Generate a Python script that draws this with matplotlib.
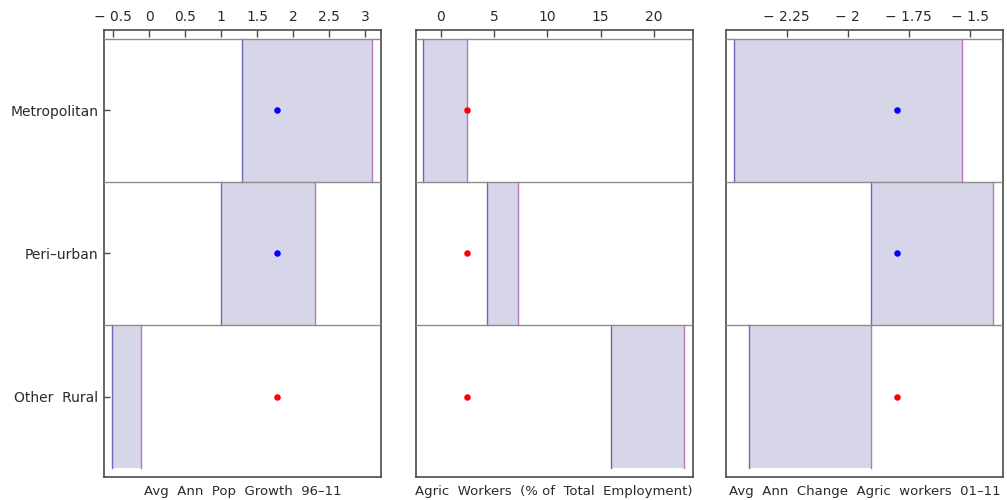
import matplotlib
matplotlib.use("Agg")
import matplotlib.pyplot as plt
from matplotlib.ticker import FuncFormatter

# rows, top to bottom
categories = ["Metropolitan", "Peri\u2013urban", "Other  Rural"]

# panel titles (drawn under each frame)
titles = ["Avg  Ann  Pop  Growth  96\u201311",
          "Agric  Workers  (% of  Total  Employment)",
          "Avg  Ann  Change  Agric  workers  01\u201311"]

# interval per row: low / high
pop_lo = [1.29, 0.99, -0.52]
pop_hi = [3.09, 2.30, -0.11]
agr_lo = [-1.64, 4.34, 16.0]
agr_hi = [2.50, 7.26, 22.8]
chg_lo = [-2.465, -1.904, -2.406]
chg_hi = [-1.531, -1.403, -1.904]

# marker value and colour per row
pop_dot = [1.77, 1.77, 1.77]
agr_dot = [2.5, 2.5, 2.5]
chg_dot = [-1.80, -1.80, -1.80]
pop_col = ["blue", "blue", "red"]
agr_col = ["red", "red", "red"]
chg_col = ["blue", "blue", "red"]

# axis ranges and tick values
pop_lim = (-0.63, 3.22)
agr_lim = (-2.35, 23.6)
chg_lim = (-2.499, -1.364)
pop_ticks = [-0.5, 0, 0.5, 1, 1.5, 2, 2.5, 3]
agr_ticks = [0, 5, 10, 15, 20]
chg_ticks = [-2.25, -2, -1.75, -1.5]

panels = [
    (pop_lo, pop_hi, pop_dot, pop_col, pop_lim, pop_ticks),
    (agr_lo, agr_hi, agr_dot, agr_col, agr_lim, agr_ticks),
    (chg_lo, chg_hi, chg_dot, chg_col, chg_lim, chg_ticks),
]

FILL = "#d6d6e8"
EDGE_L = "#6a6ab4"
EDGE_R = "#b878b8"
GRID = "#8c8c8c"
FRAME = "#4a4a4a"
TXT = "#2a2a2a"


def fmt(v, pos):
    s = ("%g" % abs(v))
    return ("\u2212 " + s) if v < 0 else s


fig = plt.figure(figsize=(10.07, 5.0), dpi=100)
lefts = [104 / 1007, 415.5 / 1007, 726 / 1007]
w = 277 / 1007
bottom, height = 23 / 500, 447 / 500
pad = 9 / 429 * 3

for i, (lo, hi, dot, col, lim, ticks) in enumerate(panels):
    ax = fig.add_axes([lefts[i], bottom, w, height])
    n = len(categories)
    for r in range(n):
        y0 = n - 1 - r
        ax.fill_between([lo[r], hi[r]], y0, y0 + 1, color=FILL, lw=0, zorder=1)
        ax.plot([lo[r], lo[r]], [y0, y0 + 1], color=EDGE_L, lw=1, zorder=2)
        ax.plot([hi[r], hi[r]], [y0, y0 + 1], color=EDGE_R, lw=1, zorder=2)
        ax.scatter([dot[r]], [y0 + 0.5], s=22, color=col[r], lw=0, zorder=4)
    for yb in [1, 2, 3]:
        ax.axhline(yb, color=GRID, lw=1, zorder=3)

    ax.set_xlim(*lim)
    ax.set_ylim(-pad, n + pad)
    ax.xaxis.tick_top()
    ax.set_xticks(ticks)
    ax.xaxis.set_major_formatter(FuncFormatter(fmt))
    ax.tick_params(axis="x", direction="in", length=5, width=1, color=FRAME,
                   labelsize=10, labelcolor=TXT, pad=4)
    if i == 0:
        ax.set_yticks([n - 0.5 - r for r in range(n)])
        ax.set_yticklabels(categories)
        ax.tick_params(axis="y", direction="in", length=4, width=1, color=FRAME,
                       labelsize=10, labelcolor=TXT, pad=4)
    else:
        ax.set_yticks([])
    for sp in ax.spines.values():
        sp.set_color(FRAME)
        sp.set_linewidth(1.2)
    ax.set_xlabel(titles[i], fontsize=9.5, color=TXT, labelpad=6)

fig.savefig("out.png", dpi=100)
